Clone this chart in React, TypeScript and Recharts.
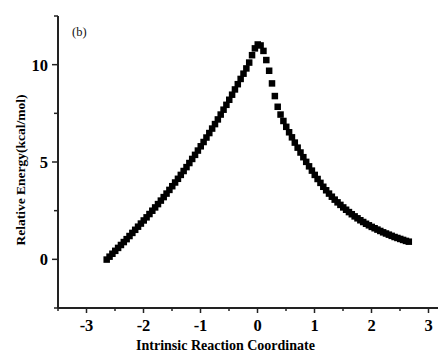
import { ScatterChart, Scatter, XAxis, YAxis } from "recharts"

// IRC coordinate (amu^1/2 bohr) and relative energy (kcal/mol)
const irc = [
  -2.65, -2.6, -2.55, -2.5, -2.45, -2.4, -2.35, -2.3, -2.25, -2.2, -2.15, -2.1, -2.05, -2.0,
  -1.95, -1.9, -1.85, -1.8, -1.75, -1.7, -1.65, -1.6, -1.55, -1.5, -1.45, -1.4, -1.35, -1.3,
  -1.25, -1.2, -1.15, -1.1, -1.05, -1.0, -0.95, -0.9, -0.85, -0.8, -0.75, -0.7, -0.65, -0.6,
  -0.55, -0.5, -0.45, -0.4, -0.35, -0.3, -0.25, -0.2, -0.15, -0.1, -0.05, 0.0,
  0.05, 0.1, 0.15, 0.2, 0.25, 0.3, 0.35, 0.4, 0.45, 0.5, 0.55, 0.6, 0.65, 0.7, 0.75, 0.8,
  0.85, 0.9, 0.95, 1.0, 1.05, 1.1, 1.15, 1.2, 1.25, 1.3, 1.35, 1.4, 1.45, 1.5, 1.55, 1.6,
  1.65, 1.7, 1.75, 1.8, 1.85, 1.9, 1.95, 2.0, 2.05, 2.1, 2.15, 2.2, 2.25, 2.3, 2.35, 2.4,
  2.45, 2.5, 2.55, 2.6, 2.65,
]

const energy = [
  0.0, 0.15, 0.3, 0.45, 0.6, 0.75, 0.9, 1.05, 1.21, 1.37, 1.53, 1.69, 1.85, 2.01,
  2.17, 2.34, 2.51, 2.68, 2.85, 3.03, 3.21, 3.39, 3.58, 3.77, 3.96, 4.15, 4.35, 4.55,
  4.75, 4.96, 5.17, 5.38, 5.6, 5.82, 6.04, 6.27, 6.5, 6.73, 6.96, 7.2, 7.45, 7.7,
  7.95, 8.21, 8.47, 8.74, 9.01, 9.28, 9.55, 9.82, 10.12, 10.5, 10.85, 11.05,
  11.0, 10.72, 10.25, 9.7, 9.05, 8.4, 7.85, 7.45, 7.12, 6.82, 6.54, 6.28, 6.01, 5.75, 5.5, 5.26,
  5.02, 4.79, 4.57, 4.35, 4.14, 3.94, 3.74, 3.56, 3.39, 3.23, 3.08, 2.94, 2.81, 2.68, 2.56, 2.44,
  2.33, 2.22, 2.12, 2.02, 1.93, 1.84, 1.76, 1.68, 1.61, 1.54, 1.47, 1.4, 1.34, 1.28, 1.22, 1.16,
  1.11, 1.06, 1.01, 0.96, 0.92,
]

const xTicks = [-3.5, -3, -2.5, -2, -1.5, -1, -0.5, 0, 0.5, 1, 1.5, 2, 2.5, 3, 3.5]
const yTicks = [-2.5, 0, 2.5, 5, 7.5, 10, 12.5]

const data = irc.map((x, i) => ({ x, y: energy[i] }))

const font = "'Liberation Serif', 'Times New Roman', serif"

const Square = (props: any) => {
  const { cx, cy } = props
  if (cx == null || cy == null) return null
  return <rect x={cx - 3} y={cy - 3} width={6.5} height={6.5} fill="#000" />
}

const BottomTick = (props: any) => {
  const { x, y, payload } = props
  const major = Number.isInteger(payload.value)
  return (
    <g>
      <line x1={x} x2={x} y1={y} y2={y + (major ? 5 : 3)} stroke="#222" strokeWidth={1.5} />
      {major && Math.abs(payload.value) < 3.5 && (
        <text x={x} y={y + 23} textAnchor="middle" fontFamily={font} fontWeight={700} fontSize={16.5} fill="#000">
          {payload.value}
        </text>
      )}
    </g>
  )
}

const TopTick = (props: any) => {
  const { x, y } = props
  return <line x1={x} x2={x} y1={y} y2={y + 3} stroke="#222" strokeWidth={1} />
}

const LeftTick = (props: any) => {
  const { x, y, payload } = props
  const major = payload.value % 5 === 0
  return (
    <g>
      <line x1={x - (major ? 6 : 4)} x2={x} y1={y} y2={y} stroke="#222" strokeWidth={1.5} />
      {major && (
        <text x={x - 10} y={y + 6} textAnchor="end" fontFamily={font} fontWeight={700} fontSize={16.5} fill="#000">
          {payload.value}
        </text>
      )}
    </g>
  )
}

export default function App() {
  return (
    <div style={{ position: "relative", width: 438, height: 345, overflow: "hidden", background: "#fff" }}>
      <ScatterChart width={449} height={345} margin={{ top: 8, right: 0, bottom: 0, left: 0 }}>
        <XAxis
          xAxisId="bottom"
          dataKey="x"
          type="number"
          domain={[-3.5, 3.5]}
          ticks={xTicks}
          interval={0}
          height={45}
          tickSize={0}
          tickMargin={0}
          tickLine={false}
          tick={<BottomTick />}
          axisLine={{ stroke: "#222", strokeWidth: 2 }}
          label={{
            value: "Intrinsic Reaction Coordinate",
            position: "insideBottom",
            offset: 3,
            dx: -32,
            style: { fontFamily: font, fontWeight: 700, fontSize: 14, fill: "#000" },
          }}
        />
        <XAxis
          xAxisId="top"
          orientation="top"
          type="number"
          domain={[-3.5, 3.5]}
          ticks={xTicks}
          interval={0}
          height={0}
          tickSize={0}
          tickMargin={0}
          tickLine={false}
          tick={<TopTick />}
          axisLine={{ stroke: "#222", strokeWidth: 1 }}
        />
        <YAxis
          dataKey="y"
          type="number"
          domain={[-2.5, 12.5]}
          ticks={yTicks}
          interval={0}
          width={50}
          tickSize={0}
          tickMargin={0}
          tickLine={false}
          tick={<LeftTick />}
          axisLine={{ stroke: "#222", strokeWidth: 2 }}
          label={{
            value: "Relative Energy(kcal/mol)",
            angle: -90,
            position: "insideLeft",
            offset: 12,
            dy: 8,
            textAnchor: "middle",
            style: { fontFamily: font, fontWeight: 700, fontSize: 13.5, fill: "#000", textAnchor: "middle" },
          }}
        />
        <Scatter data={data} xAxisId="bottom" shape={<Square />} isAnimationActive={false} />
      </ScatterChart>
      <div
        style={{
          position: "absolute",
          left: 64,
          top: 18,
          fontFamily: font,
          fontSize: 12.5,
          lineHeight: "12px",
          color: "#111",
        }}
      >
        (b)
      </div>
    </div>
  )
}
